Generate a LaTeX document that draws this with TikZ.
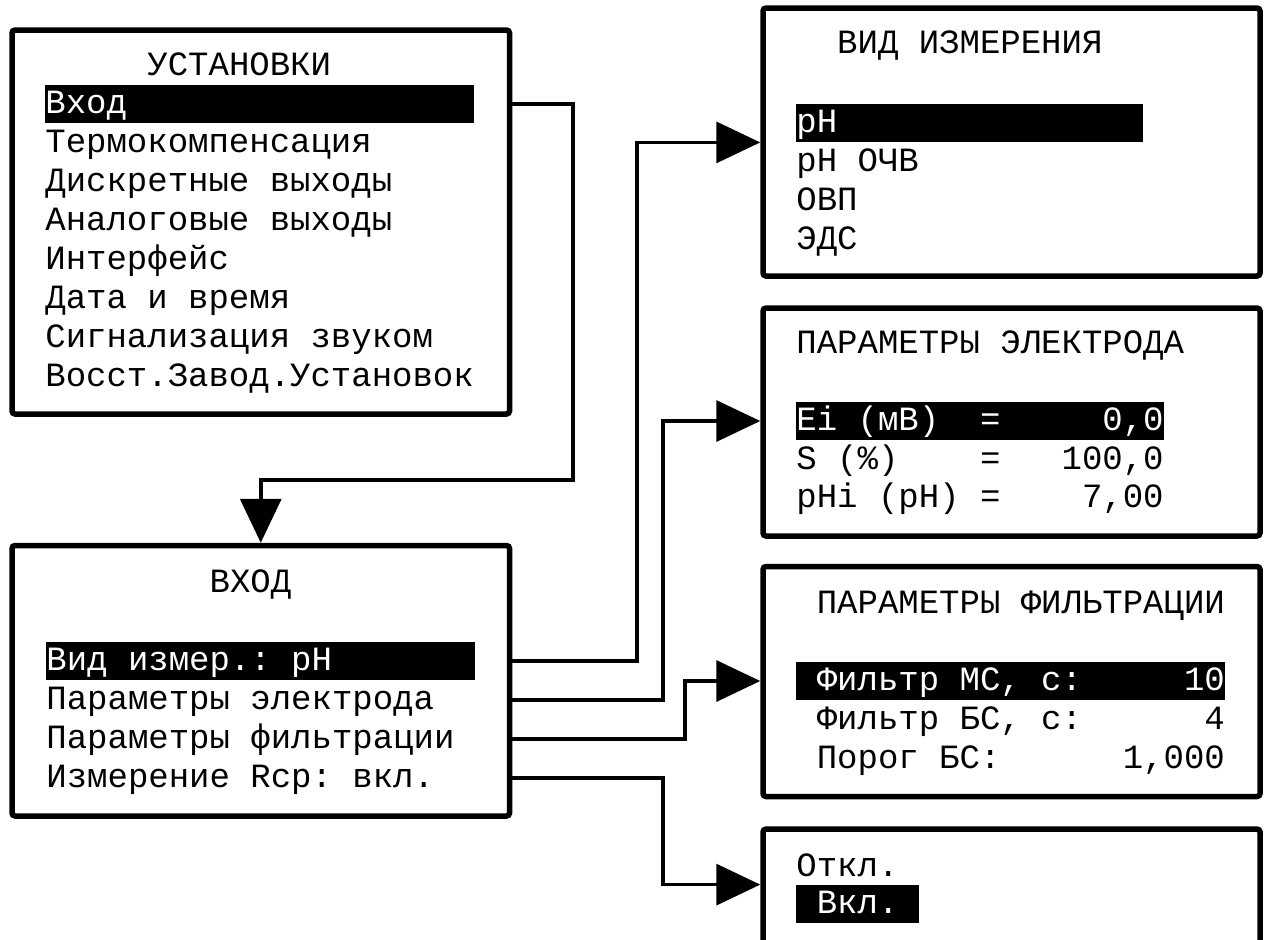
\documentclass[tikz,border=0pt]{standalone}
\usepackage{fontspec}
\newfontfamily\lcd{Liberation Mono}
\usepackage{tikz}
\usetikzlibrary{arrows.meta}
\newcommand\blank[1]{\kern\dimexpr0.6em*#1\relax}
\tikzset{
    screen/.style={draw=black, line width=2.75pt, rounded corners=1.5pt,
        minimum width=248.75pt, inner sep=0pt},
    row/.style={anchor=base west, inner sep=0pt,
        font={\lcd\fontsize{17}{20}\selectfont\frenchspacing}, text height=14pt, text depth=5pt},
    sel/.style={row, fill=black, text=white},
}
\tikzstyle{line} = [draw, line width=1.75pt, -{Triangle[length=22pt,width=20.5pt]}]

\begin{document}
\begin{tikzpicture}[x=0.5pt, y=-0.5pt]
    \useasboundingbox (0,0) rectangle (1264,939);
    \clip (0,0) rectangle (1264,939);
% screens
    \node[screen, minimum height=192pt] (ust) at (260.75,222) {};
    \node[screen, minimum height=135.25pt] (vx) at (260.75,680.75) {};
    \node[screen, minimum width=248.5pt, minimum height=134pt] (izm) at (1011.5,142) {};
    \node[screen, minimum width=248.5pt, minimum height=114pt] (el) at (1011.5,422) {};
    \node[screen, minimum width=248.5pt, minimum height=115pt] (flt) at (1011.5,681.5) {};
    \node[screen, minimum width=248.5pt, minimum height=85.5pt] (rcp) at (1011.5,914.5) {};
% settings menu
    \node[row] (u-t) at (45,75) {\blank{5}УСТАНОВКИ};
    \node[sel] (u-vhod) at (45,113) {Вход\blank{17}};
    \node[row] (u-term) at (45,152) {Термокомпенсация};
    \node[row] (u-disk) at (45,191) {Дискретные выходы};
    \node[row] (u-anlg) at (45,230) {Аналоговые выходы};
    \node[row] (u-intf) at (45,269) {Интерфейс};
    \node[row] (u-data) at (45,308) {Дата и время};
    \node[row] (u-sign) at (45,347) {Сигнализация звуком};
    \node[row] (u-vost) at (45,386) {Восст.Завод.Установок};
% input menu
    \node[row] (v-t) at (46,592) {\blank{8}ВХОД};
    \node[sel] (v-vid) at (46,670) {Вид измер.: pH\blank{7}};
    \node[row] (v-el) at (46,709) {Параметры электрода};
    \node[row] (v-flt) at (46,748) {Параметры фильтрации};
    \node[row] (v-rcp) at (46,787) {Измерение Rcp: вкл.};
% measurement type
    \node[row] (m-t) at (796,53) {\blank{2}ВИД ИЗМЕРЕНИЯ};
    \node[sel] (m-ph) at (796,132) {pH\blank{15}};
    \node[row] (m-ochv) at (796,171) {pH ОЧВ};
    \node[row] (m-ovp) at (796,210) {ОВП};
    \node[row] (m-eds) at (796,249) {ЭДС};
% electrode
    \node[row] (e-t) at (796,353) {ПАРАМЕТРЫ ЭЛЕКТРОДА};
    \node[sel] (e-ei) at (796,430) {Ei (мВ)\blank{2}=\blank{5}0,0};
    \node[row] (e-s) at (796,469) {S (\%)\blank{4}=\blank{3}100,0};
    \node[row] (e-phi) at (796,507) {pHi (pH) =\blank{4}7,00};
% filtering
    \node[row] (f-t) at (796,613) {\blank{1}ПАРАМЕТРЫ ФИЛЬТРАЦИИ};
    \node[sel] (f-mc) at (796,690) {\blank{1}Фильтр МС, с:\blank{5}10};
    \node[row] (f-bc) at (796,729) {\blank{1}Фильтр БС, с:\blank{6}4};
    \node[row] (f-por) at (796,768) {\blank{1}Порог БС:\blank{6}1,000};
% Rcp on/off
    \node[row] (o-off) at (796,876) {Откл.};
    \node[sel] (o-on) at (796,913) {\blank{1}Вкл.\blank{1}};
% connectors
    \coordinate (k0) at (573,480);
    \coordinate (k1) at (637,0);
    \coordinate (k2) at (663,0);
    \coordinate (k3) at (685,0);
    \draw[line] (ust.east |- u-vhod) -| (k0) -| (vx.north);
    \draw[line] (vx.east |- v-vid) -- (k1 |- v-vid) |- (izm.west |- m-ph.south);
    \draw[line] (vx.east |- v-el) -- (k2 |- v-el) |- (el.west |- e-ei);
    \draw[line] (vx.east |- v-flt) -- (k3 |- v-flt) |- (flt.west |- f-mc);
    \draw[line] (vx.east |- v-rcp) -- (k2 |- v-rcp) |- (rcp.west |- o-on.north);
\end{tikzpicture}
\end{document}
